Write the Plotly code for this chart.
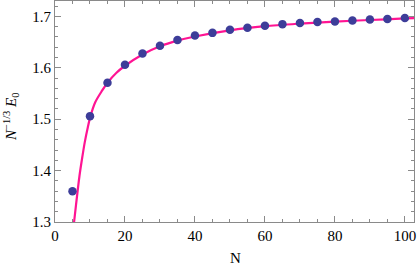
import plotly.graph_objects as go

# data points
N_pts = [5, 10, 15, 20, 25, 30, 35, 40, 45, 50, 55, 60, 65, 70, 75, 80, 85, 90, 95, 100]
E_pts = [1.360, 1.506, 1.571, 1.606, 1.628, 1.643, 1.654, 1.663, 1.668, 1.674,
         1.678, 1.682, 1.685, 1.687, 1.689, 1.690, 1.692, 1.694, 1.695, 1.697]

# fitted curve
N_fit = [5.45, 6.0, 6.5, 7.0, 7.75, 8.5, 9.4, 10.1, 11.5, 13.4, 15, 17.5, 20, 25, 30, 35, 40,
         50, 60, 70, 80, 90, 100, 103]
E_fit = [1.300, 1.333, 1.362, 1.390, 1.424, 1.455, 1.485, 1.505, 1.533, 1.555, 1.571, 1.590,
         1.604, 1.626, 1.642, 1.653, 1.661, 1.673, 1.681, 1.686, 1.690, 1.693, 1.696, 1.697]

x_ticks = [0, 20, 40, 60, 80, 100]
y_ticks = [1.3, 1.4, 1.5, 1.6, 1.7]

SERIF = "Liberation Serif, Times New Roman, DejaVu Serif, serif"

fig = go.Figure()
fig.add_trace(go.Scatter(x=N_fit, y=E_fit, mode="lines",
                         line=dict(color="#ff1493", width=2.2, shape="spline", smoothing=0.8),
                         hoverinfo="skip"))
fig.add_trace(go.Scatter(x=N_pts, y=E_pts, mode="markers",
                         marker=dict(color="#3d3d99", size=8.5, line=dict(width=0))))

axis_common = dict(showgrid=False, zeroline=False, showline=True, linecolor="#8a8a8a", linewidth=1,
                   mirror="ticks", ticks="inside", tickcolor="#8a8a8a", ticklen=6, tickwidth=1,
                   automargin=False,
                   tickfont=dict(family=SERIF, size=15, color="black"))

fig.update_xaxes(range=[0, 102.6], tickvals=x_ticks, ticktext=[str(v) for v in x_ticks],
                 minor=dict(dtick=5, ticks="inside", ticklen=3, tickcolor="#8a8a8a", showgrid=False),
                 **axis_common)
fig.update_yaxes(range=[1.3, 1.730], tickvals=y_ticks, ticktext=[f"{v:.1f}" for v in y_ticks],
                 minor=dict(dtick=0.02, tick0=1.3, ticks="inside", ticklen=3, tickcolor="#8a8a8a", showgrid=False),
                 **axis_common)

W, H = 417, 267
fig.add_annotation(text="N", xref="paper", yref="paper",
                   x=(235 - 55) / (W - 58), y=-(258 - 222) / (H - 46),
                   showarrow=False, xanchor="center", yanchor="middle",
                   font=dict(family=SERIF, size=15, color="black"))
fig.add_annotation(text="<i>N</i><sup>−1/3</sup> <i>E</i><sub>0</sub>", xref="paper", yref="paper",
                   x=-(55 - 11) / (W - 58), y=(222 - 117) / (H - 46), textangle=-90,
                   showarrow=False, xanchor="center", yanchor="middle",
                   font=dict(family=SERIF, size=15, color="black"))

fig.update_layout(width=W, height=H, margin=dict(l=55, r=3, t=1, b=45),
                  plot_bgcolor="white", paper_bgcolor="white", showlegend=False)

fig.write_html("out.html", config={"displayModeBar": False},
               post_script="document.body.style.margin='0';document.body.style.padding='0';")
